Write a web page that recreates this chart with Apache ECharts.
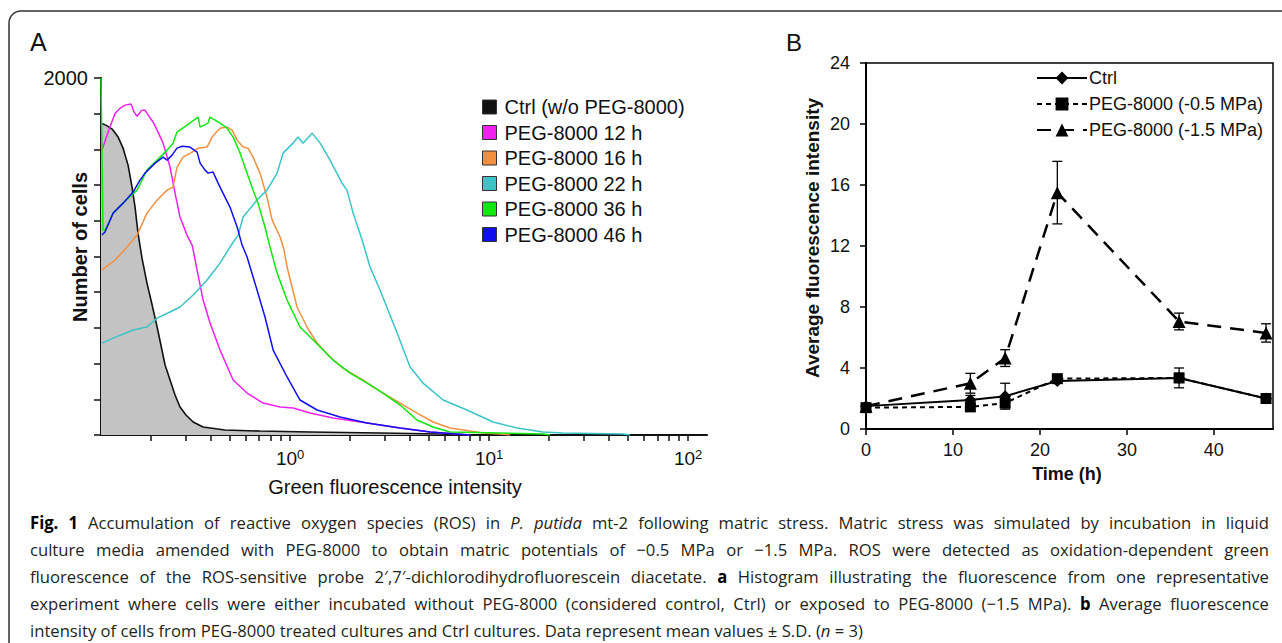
<!DOCTYPE html>
<html><head><meta charset="utf-8">
<script src="https://cdn.jsdelivr.net/npm/echarts@6/dist/echarts.min.js"></script>
<style>html,body{margin:0;padding:0;background:#fff}#c{width:1282px;height:643px}</style>
</head><body><div id="c"></div>
<script>
// ---------- Panel A: flow-cytometry histograms (x = log10 of green fluorescence intensity) ----------
const histNames = ['Ctrl (w/o PEG-8000)','PEG-8000 12 h','PEG-8000 16 h','PEG-8000 22 h','PEG-8000 36 h','PEG-8000 46 h'];
const ctrlLogX = [-0.950,-0.925,-0.894,-0.864,-0.839,-0.814,-0.794,-0.779,-0.764,-0.744,-0.719,-0.693,-0.668,-0.628,-0.603,-0.578,-0.553,-0.523,-0.487,-0.437,-0.327,-0.151,0.101,0.452,0.754,0.905];
const ctrlCount = [1747,1736,1714,1669,1607,1512,1389,1277,1131,991,851,728,605,392,308,224,157,112,73,45,28,22,17,11,6,0];
const h12LogX = [-0.945,-0.925,-0.905,-0.879,-0.854,-0.829,-0.799,-0.784,-0.769,-0.744,-0.729,-0.709,-0.688,-0.668,-0.638,-0.603,-0.578,-0.553,-0.518,-0.492,-0.467,-0.437,-0.402,-0.352,-0.286,-0.216,-0.136,-0.050,0.015,0.101,0.216,0.387,0.553,0.704,0.905];
const h12Count = [1596,1663,1725,1803,1831,1848,1854,1809,1786,1820,1820,1786,1753,1708,1635,1501,1355,1221,1120,1064,924,756,627,476,308,235,179,157,151,123,95,67,39,17,0];
const h16LogX = [-0.945,-0.915,-0.879,-0.819,-0.769,-0.719,-0.668,-0.618,-0.588,-0.568,-0.538,-0.492,-0.462,-0.417,-0.392,-0.352,-0.317,-0.291,-0.266,-0.236,-0.211,-0.186,-0.151,-0.116,-0.090,-0.050,-0.030,-0.015,0.035,0.085,0.136,0.201,0.266,0.367,0.467,0.553,0.638,0.719,0.804,0.970,1.055,1.106];
const h16Count = [924,952,980,1053,1120,1243,1316,1372,1389,1501,1557,1585,1607,1613,1669,1719,1725,1708,1652,1613,1607,1557,1467,1333,1204,1109,1036,941,717,605,515,437,375,308,235,179,123,73,39,11,6,0];
const h22LogX = [-0.945,-0.889,-0.789,-0.719,-0.668,-0.603,-0.553,-0.487,-0.417,-0.352,-0.302,-0.261,-0.236,-0.166,-0.116,-0.065,-0.035,0.015,0.040,0.065,0.111,0.151,0.201,0.261,0.286,0.317,0.362,0.402,0.452,0.538,0.603,0.668,0.769,0.889,1.020,1.141,1.271,1.372,1.673,1.709];
const h22Count = [515,543,588,605,655,689,717,784,868,963,1053,1120,1221,1316,1372,1467,1579,1635,1669,1635,1691,1635,1540,1411,1372,1243,1092,941,812,571,381,291,196,140,73,39,17,11,6,0];
const h36LogX = [-0.950,-0.940,-0.930,-0.889,-0.839,-0.769,-0.719,-0.668,-0.618,-0.588,-0.568,-0.518,-0.462,-0.452,-0.412,-0.402,-0.352,-0.317,-0.286,-0.251,-0.216,-0.186,-0.161,-0.126,-0.101,-0.065,-0.015,0.050,0.116,0.216,0.302,0.387,0.467,0.553,0.638,0.719,0.804,1.055,1.271,1.307];
const h36Count = [2000,1148,1148,1243,1299,1372,1484,1540,1596,1635,1697,1736,1781,1725,1747,1781,1747,1719,1669,1579,1467,1372,1299,1165,1053,907,756,605,532,420,347,291,235,168,84,45,17,11,6,0];
const h46LogX = [-0.945,-0.930,-0.889,-0.839,-0.789,-0.754,-0.729,-0.678,-0.638,-0.618,-0.593,-0.568,-0.543,-0.503,-0.467,-0.452,-0.427,-0.412,-0.387,-0.352,-0.302,-0.266,-0.241,-0.216,-0.166,-0.126,-0.085,-0.015,0.050,0.136,0.251,0.387,0.553,0.704,0.905];
const h46Count = [1120,1137,1243,1299,1361,1428,1467,1523,1557,1540,1568,1607,1618,1613,1585,1523,1484,1467,1473,1389,1277,1165,1064,997,812,661,476,325,196,140,101,67,39,17,0];
const histColors = ['#111111','#f020f0','#f39040','#3cc3c6','#10e810','#1010ee'];
const xDecadeLabels = [0,1,2];

// ---------- Panel B: average fluorescence intensity ----------
const bNames = ['Ctrl','PEG-8000 (-0.5 MPa)','PEG-8000 (-1.5 MPa)'];
const timeH = [0,12,16,22,36,46];
const ctrlMean = [1.5,1.9,2.15,3.15,3.35,2.0];
const ctrlSD   = [0.15,0.3,0.85,0.15,0.3,0.1];
const peg05Mean = [1.4,1.45,1.7,3.3,3.35,2.0];
const peg05SD   = [0.15,0.15,0.3,0.15,0.65,0.15];
const peg15Mean = [1.5,3.0,4.65,15.5,7.05,6.3];
const peg15SD   = [0.1,0.65,0.55,2.05,0.55,0.6];
const bYTicks = [0,4,8,12,16,20,24];
const bXTicks = [0,10,20,30,40];

// ---------- Caption ----------
const captionLines = [
 [['Fig. 1','b'],[' Accumulation of reactive oxygen species (ROS) in ',''],['P. putida','i'],[' mt-2 following matric stress. Matric stress was simulated by incubation in liquid','']],
 [['culture media amended with PEG-8000 to obtain matric potentials of \u22120.5 MPa or \u22121.5 MPa. ROS were detected as oxidation-dependent green','']],
 [['fluorescence of the ROS-sensitive probe 2\u2032,7\u2032-dichlorodihydrofluorescein diacetate. ',''],['a','b'],[' Histogram illustrating the fluorescence from one representative','']],
 [['experiment where cells were either incubated without PEG-8000 (considered control, Ctrl) or exposed to PEG-8000 (\u22121.5 MPa). ',''],['b','b'],[' Average fluorescence','']],
 [['intensity of cells from PEG-8000 treated cultures and Ctrl cultures. Data represent mean values \u00b1 S.D. (',''],['n','i'],[' = 3)','']]
];

const AR = 'Liberation Sans, Arial, Helvetica, sans-serif';
const CAP = '"Open Sans", "Noto Sans", sans-serif';

function zip(a,b){ return a.map((v,i)=>[v,b[i]]); }

// log-scale tick positions (axis furniture, not data)
const xMinA = -0.95, xMaxA = 2.095;
const tickLogs = [];
for (let d=-1; d<=2; d++) for (let m=1; m<=9; m++) {
  const v = d + Math.log10(m);
  if (v > xMinA + 0.01 && v <= xMaxA) tickLogs.push(v);
}

// caption layout (justified, horizontally condensed)
const mctx = document.createElement('canvas').getContext('2d');
const capFs = 17;
function fontOf(st){ return (st==='i'?'italic ':'') + (st==='b'?'bold ':'') + capFs + 'px ' + CAP; }
function words(line){
  const out=[]; let cur=[];
  line.forEach(([txt,st])=>{
    txt.split(/(\s+)/).forEach(p=>{
      if (p==='') return;
      if (/^\s+$/.test(p)) { if (cur.length) { out.push(cur); cur=[]; } }
      else cur.push([p,st]);
    });
  });
  if (cur.length) out.push(cur);
  return out;
}
function pw(p,st){ mctx.font=fontOf(st); return mctx.measureText(p).width; }
function wWidth(w){ return w.reduce((s,[p,st])=>s+pw(p,st),0); }
let capScale = 0.85;
{
  const ws = words(captionLines[4]);
  const nat = ws.reduce((s,w)=>s+wWidth(w),0) + pw(' ','')*(ws.length-1);
  capScale = Math.max(0.7, Math.min(1, 833/nat));
}
const capX0 = 30, capX1 = 1269;
const capY = [522, 549, 576, 603, 630];
const captionGraphics = [];
captionLines.forEach((line, li)=>{
  const ws = words(line);
  const spN = pw(' ','')*capScale;
  const total = ws.reduce((s,w)=>s+wWidth(w)*capScale,0);
  const sp = li < captionLines.length-1 ? (capX1-capX0-total)/(ws.length-1) : spN;
  let x = capX0;
  ws.forEach(w=>{
    w.forEach(([p,st])=>{
      captionGraphics.push({type:'text', x:x, y:capY[li], scaleX:capScale, silent:true,
        style:{text:p, font:fontOf(st), fill: st==='b'?'#000':'#231f20', textAlign:'left', textVerticalAlign:'middle', align:'left', verticalAlign:'middle'}});
      x += pw(p,st)*capScale;
    });
    x += sp;
  });
});

function txt(x,y,t,font,rot,align){
  return {type:'text', x:x, y:y, rotation:rot||0, silent:true,
    style:{text:t, font:font, fill:'#111', textAlign:align||'center', textVerticalAlign:'middle', align:align||'center', verticalAlign:'middle'}};
}

const histData = [zip(ctrlLogX,ctrlCount), zip(h12LogX,h12Count), zip(h16LogX,h16Count), zip(h22LogX,h22Count), zip(h36LogX,h36Count), zip(h46LogX,h46Count)];
const histSeries = histNames.map((n,i)=>({
  name:n, type:'line', xAxisIndex:0, yAxisIndex:0, data:histData[i],
  showSymbol:false, symbol:'none', smooth:false, animation:false,
  color: histColors[i],
  lineStyle:{width: i===0?1.6:1.5, color:histColors[i]},
  areaStyle: i===0 ? {color:'#c3c3c3', opacity:1} : undefined,
  z: i===0 ? 1 : 2
}));

const bMeans = [ctrlMean, peg05Mean, peg15Mean];
const bSDs = [ctrlSD, peg05SD, peg15SD];
const bSymbols = ['diamond','rect','triangle'];
const bSymSizes = [12,11,13];
const bDash = ['solid',[5,4],[14,9]];
const bSeries = bNames.map((n,i)=>({
  name:n, type:'line', xAxisIndex:1, yAxisIndex:1,
  data: zip(timeH, bMeans[i]), symbol:bSymbols[i], symbolSize:bSymSizes[i], showSymbol:true,
  color:'#000', itemStyle:{color:'#000'}, animation:false,
  lineStyle:{color:'#000', width: i===2?2.5:2, type:bDash[i]}, z:3+i
}));
const errSeries = bNames.map((n,i)=>({
  type:'custom', xAxisIndex:1, yAxisIndex:1, z:2, animation:false, silent:true,
  data: timeH.map((t,k)=>[t, bMeans[i][k]-bSDs[i][k], bMeans[i][k]+bSDs[i][k]]),
  renderItem:(params, api)=>{
    const x = api.value(0), lo = api.value(1), hi = api.value(2);
    const p1 = api.coord([x,lo]), p2 = api.coord([x,hi]);
    const c = 5, st = {stroke:'#000', lineWidth:1.3};
    return {type:'group', children:[
      {type:'line', shape:{x1:p1[0],y1:p1[1],x2:p2[0],y2:p2[1]}, style:st},
      {type:'line', shape:{x1:p1[0]-c,y1:p1[1],x2:p1[0]+c,y2:p1[1]}, style:st},
      {type:'line', shape:{x1:p2[0]-c,y1:p2[1],x2:p2[0]+c,y2:p2[1]}, style:st}
    ]};
  }
}));

const chart = echarts.init(document.getElementById('c'), null, {renderer:'svg', width:1282, height:643});
chart.setOption({
  animation:false,
  backgroundColor:'#fff',
  grid:[
    {left:101, right:575, top:78, bottom:208, containLabel:false},
    {left:866, right:9, top:63, bottom:214, containLabel:false, show:true, borderColor:'#000', borderWidth:1.5}
  ],
  xAxis:[
    {type:'value', gridIndex:0, min:xMinA, max:xMaxA,
     axisLine:{show:true, onZero:false, lineStyle:{color:'#111', width:2}},
     axisTick:{show:true, length:6, customValues:tickLogs, lineStyle:{color:'#111', width:1.5}},
     axisLabel:{customValues:xDecadeLabels, margin:13, color:'#111',
       formatter:(v)=>'{b|10}{s|'+Math.round(v)+'}',
       rich:{b:{fontSize:19, fontFamily:AR, color:'#111', lineHeight:20, verticalAlign:'bottom'},
             s:{fontSize:13, fontFamily:AR, color:'#111', lineHeight:13, verticalAlign:'top'}}},
     splitLine:{show:false}},
    {type:'value', gridIndex:1, min:0, max:46.8,
     axisLine:{show:true, onZero:false, lineStyle:{color:'#000', width:2}},
     axisTick:{show:true, length:6, customValues:bXTicks, lineStyle:{color:'#000', width:1.5}},
     axisLabel:{customValues:bXTicks, margin:12, fontSize:18, fontFamily:AR, color:'#111'},
     splitLine:{show:false}}
  ],
  yAxis:[
    {type:'value', gridIndex:0, min:0, max:2000, interval:200,
     axisLine:{show:true, onZero:false, lineStyle:{color:'#111', width:2}},
     axisTick:{show:true, length:7, lineStyle:{color:'#111', width:1.5}},
     axisLabel:{margin:13, fontSize:20, fontFamily:AR, color:'#111', formatter:(v)=> v===2000 ? '2000' : ''},
     splitLine:{show:false}},
    {type:'value', gridIndex:1, min:0, max:24, interval:4,
     axisLine:{show:true, onZero:false, lineStyle:{color:'#000', width:2}},
     axisTick:{show:true, length:6, customValues:bYTicks, lineStyle:{color:'#000', width:1.5}},
     axisLabel:{customValues:bYTicks, margin:16, fontSize:18, fontFamily:AR, color:'#111'},
     splitLine:{show:false}}
  ],
  legend:[
    {data:histNames, orient:'vertical', left:477, top:92, icon:'rect', itemWidth:14, itemHeight:14, itemGap:5.5,
     selectedMode:false, itemStyle:{borderColor:'#333', borderWidth:1},
     textStyle:{fontSize:20, fontFamily:AR, color:'#111', lineHeight:20, padding:[0,0,0,3]}},
    {data:bNames, orient:'vertical', left:1031, top:64, itemWidth:50, itemHeight:16, itemGap:8,
     selectedMode:false,
     textStyle:{fontSize:18, fontFamily:AR, color:'#111', lineHeight:18, padding:[0,0,0,-3]}}
  ],
  graphic:[
    {type:'rect', silent:true, shape:{x:9, y:11, width:1320, height:700, r:12}, style:{fill:'none', stroke:'#333', lineWidth:1.5}},
    txt(30,42,'A','25px '+AR,0,'left'),
    txt(786,42,'B','24px '+AR,0,'left'),
    txt(80,247,'Number of cells','bold 20px '+AR,Math.PI/2),
    txt(395,487,'Green fluorescence intensity','20px '+AR),
    txt(812,238,'Average fluorescence intensity','bold 19px '+AR,Math.PI/2),
    txt(1067,474,'Time (h)','bold 18px '+AR)
  ].concat(captionGraphics),
  series: histSeries.concat(errSeries, bSeries)
});
</script>
</body></html>
